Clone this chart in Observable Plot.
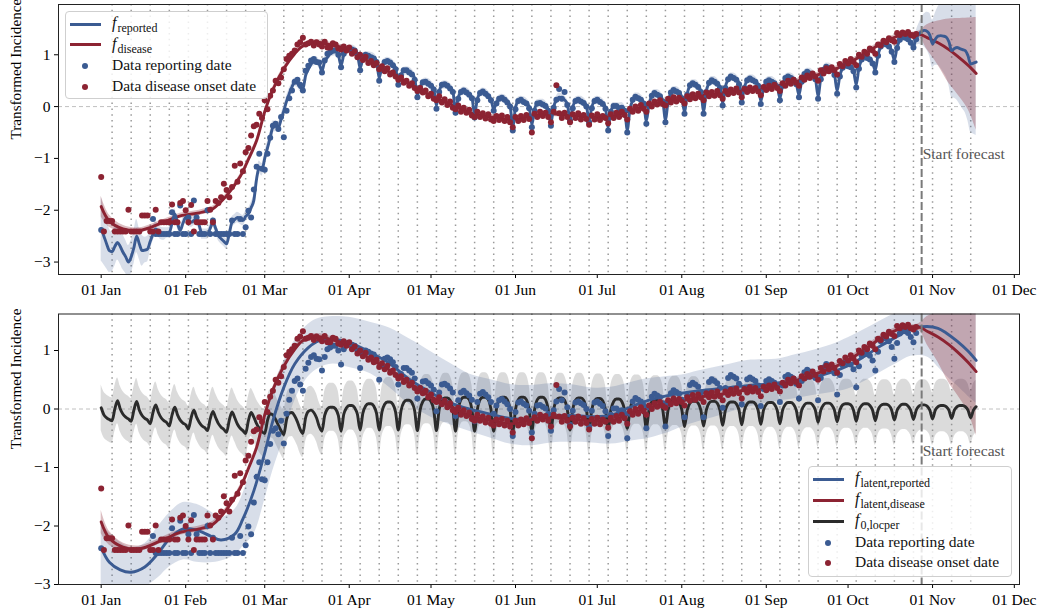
<!DOCTYPE html>
<html><head><meta charset="utf-8">
<script src="https://cdn.jsdelivr.net/npm/d3@7"></script>
<script src="https://cdn.jsdelivr.net/npm/@observablehq/plot@0.6"></script>
<style>
body{margin:0;background:#fff;}
#wrap{position:relative;width:1038px;height:612px;font-family:"Liberation Serif",serif;overflow:hidden;}
#wrap svg{position:absolute;left:0;display:block;}
.leg{position:absolute;border:1px solid #cfcfcf;border-radius:4px;background:rgba(255,255,255,0.82);box-sizing:border-box;}
.leg .row{position:absolute;left:0;right:0;height:0;}
.leg .ln{position:absolute;height:3px;top:-1.5px;}
.leg .dt{position:absolute;width:6px;height:6px;border-radius:50%;top:-3px;}
.leg .tx{position:absolute;top:0;transform:translateY(-55%);font-size:15.5px;white-space:nowrap;color:#111;line-height:1;}
.leg .f{font-style:italic;font-size:16px;}
.leg .sub{font-size:12px;position:relative;top:4px;margin-left:1px;}
</style></head>
<body><div id="wrap"></div>
<script>
// ---------- data (day index 0 = 01 Jan 2020) ----------
const forecastDay = 301;
const yTicksTop = [-3,-2,-1,0,1];
const yTicksBottom = [-3,-2,-1,0,1];

// top panel: f_reported (daily, days 0..321)
const repLine = [
-2.36,-2.5,-2.65,-2.78,-2.8,-2.7,-2.62,-2.7,-2.81,-2.9,
-3.0,-2.9,-2.72,-2.5,-2.65,-2.78,-2.77,-2.75,-2.6,-2.46,
-2.36,-2.4,-2.45,-2.46,-2.44,-2.43,-2.25,-2.07,-2.25,-2.39,
-2.25,-2.14,-2.2,-2.23,-2.2,-2.17,-2.3,-2.46,-2.46,-2.46,
-2.35,-2.23,-2.35,-2.49,-2.55,-2.6,-2.65,-2.45,-2.23,-2.18,
-2.14,-2.17,-2.2,-2.12,-2.07,-1.95,-1.81,-1.4,-1.17,-1.22,
-1.0,-0.8,-0.6,-0.4,-0.38,-0.4,-0.25,-0.08,0.1,0.25,
0.38,0.47,0.45,0.37,0.34,0.6,0.72,0.82,0.86,0.88,
0.82,0.69,0.88,0.95,1.02,1.05,1.06,1.0,0.79,1.0,
1.08,1.1,1.11,1.09,1.02,0.74,0.92,0.98,0.98,0.97,
0.95,0.88,0.55,0.78,0.85,0.87,0.86,0.82,0.75,0.45,
0.62,0.68,0.69,0.68,0.64,0.55,0.22,0.38,0.45,0.47,
0.46,0.42,0.35,0.02,0.3,0.4,0.42,0.41,0.37,0.3,
-0.08,0.18,0.27,0.3,0.29,0.25,0.18,-0.15,0.15,0.25,
0.28,0.27,0.22,0.14,-0.05,0.08,0.14,0.16,0.15,0.1,
0.02,-0.38,-0.02,0.1,0.12,0.11,0.08,0.0,-0.35,-0.05,
0.05,0.06,0.06,0.03,-0.05,-0.32,0.0,0.12,0.18,0.17,
0.13,0.05,-0.25,0.0,0.1,0.12,0.12,0.09,0.02,-0.27,
0.0,0.1,0.12,0.11,0.07,-0.02,-0.4,-0.08,0.0,0.0,
-0.01,0.0,-0.05,-0.45,-0.05,0.12,0.18,0.18,0.15,0.08,
-0.28,0.05,0.2,0.25,0.25,0.22,0.12,-0.25,0.1,0.26,
0.31,0.31,0.28,0.18,-0.1,0.25,0.4,0.44,0.44,0.4,
0.3,-0.08,0.3,0.45,0.5,0.5,0.46,0.38,0.06,0.38,
0.52,0.57,0.57,0.54,0.45,0.12,0.38,0.5,0.53,0.53,
0.5,0.42,0.1,0.36,0.47,0.5,0.5,0.47,0.4,0.16,
0.42,0.54,0.57,0.57,0.54,0.45,0.22,0.5,0.62,0.66,
0.66,0.63,0.55,0.2,0.55,0.7,0.76,0.76,0.73,0.63,
0.3,0.6,0.74,0.79,0.8,0.78,0.7,0.42,0.75,0.9,
0.95,0.96,0.93,0.85,0.7,1.0,1.15,1.21,1.22,1.18,
1.08,0.9,1.15,1.28,1.34,1.35,1.32,1.25,1.16,1.32,
1.40,1.45,1.47,1.45,1.38,1.21,1.3,1.36,1.37,1.36,
1.34,1.25,1.08,1.12,1.14,1.12,1.1,1.08,0.98,0.82,
0.84,0.86];

// uncertainty half-width of f_reported: [from day, half-width]
const repBandHalf = [[0,0.62],[1,0.55],[2,0.48],[3,0.42],[4,0.38],[6,0.34],[9,0.32],[14,0.3],[16,0.25],[18,0.18],[19,0.14],[21,0.12],[24,0.1],[56,0.12],[64,0.1],[70,0.08],[296,0.09],[298,0.11],[299,0.14],[300,0.2],[301,0.26],[302,0.32],[303,0.37],[304,0.42],[305,0.46],[306,0.5],[307,0.56],[308,0.63],[309,0.7],[310,0.77],[311,0.84],[312,0.9],[313,0.96],[314,1.02],[315,1.08],[316,1.14],[317,1.2],[318,1.26],[319,1.32],[320,1.37],[321,1.42]];

// data by reporting date (daily, days 0..299; null = not shown)
const repData = [
-2.38,null,null,null,null,null,null,null,null,null,
null,null,null,null,null,null,null,null,null,-2.17,
-2.46,-2.46,-2.46,-2.46,-2.46,-2.46,-2.04,-2.46,-2.46,-1.91,
-2.46,-2.46,-2.14,-2.46,-1.81,-2.14,-2.46,-2.46,-2.46,-2.0,
-2.46,-2.2,-2.46,-2.46,-2.46,-2.46,-2.46,-2.46,-2.2,-2.46,
-2.46,-2.17,-2.46,-2.33,-2.01,-2.14,-1.6,-1.16,-0.91,-1.2,
-1.22,-0.91,-0.6,-0.37,-0.33,-0.43,-0.2,-0.59,-0.08,0.16,
0.31,0.48,0.52,0.42,0.31,0.69,0.79,0.89,0.92,0.86,
0.85,0.66,0.89,1.02,1.05,1.08,1.08,1.0,0.76,1.02,
1.1,1.12,1.1,1.08,1.0,0.7,0.92,1.0,0.98,0.95,
0.93,0.86,0.5,0.75,0.86,0.88,0.85,0.8,0.72,0.42,
0.6,0.7,0.7,0.66,0.62,0.52,0.18,0.36,0.47,0.48,
0.44,0.4,0.33,-0.04,0.28,0.42,0.43,0.4,0.35,0.28,
-0.12,0.15,0.28,0.31,0.27,0.23,0.16,-0.21,0.12,0.26,
0.29,0.25,0.2,0.12,-0.08,0.06,0.15,0.17,0.13,0.08,
0.0,-0.46,-0.05,0.11,0.13,0.09,0.06,-0.03,-0.4,-0.08,
0.06,0.07,0.04,0.01,-0.08,-0.37,-0.02,0.13,0.34,0.15,
0.28,0.03,-0.27,-0.03,0.11,0.13,0.1,0.07,0.0,-0.3,
-0.03,0.11,0.13,0.09,0.05,-0.04,-0.46,-0.1,0.01,0.01,
-0.03,-0.02,-0.08,-0.5,-0.08,0.13,0.19,0.16,0.13,0.06,
-0.33,0.03,0.21,0.26,0.23,0.2,0.1,-0.3,0.08,0.27,
0.32,0.29,0.26,0.16,-0.14,0.23,0.41,0.45,0.42,0.38,
0.28,-0.14,0.28,0.46,0.51,0.48,0.44,0.36,0.02,0.36,
0.53,0.58,0.55,0.52,0.43,0.08,0.36,0.51,0.54,0.51,
0.48,0.4,0.05,0.34,0.48,0.51,0.48,0.45,0.38,0.12,
0.4,0.55,0.58,0.55,0.52,0.43,0.18,0.48,0.63,0.67,
0.64,0.61,0.53,0.15,0.53,0.71,0.77,0.74,0.71,0.61,
0.25,0.58,0.75,0.8,0.78,0.76,0.68,0.37,0.73,0.91,
0.96,0.94,0.91,0.83,0.66,0.98,1.16,1.22,1.2,1.16,
1.06,0.86,1.13,1.29,1.35,1.33,1.3,1.23,1.14,1.3];

// data by disease onset date (daily, days 0..299)
const onsData = [
-1.36,-2.41,-2.21,-2.21,-2.21,-2.41,-2.41,-2.41,-2.41,-2.41,
-1.99,-2.41,-2.41,-2.41,-2.41,-2.1,-2.1,-2.1,-2.41,-2.41,
-1.99,-2.41,-2.23,-2.23,-2.23,-2.23,-1.89,-2.23,-2.23,-1.86,
-1.82,-2.0,-2.23,-1.9,-2.41,-2.23,-2.23,-2.23,-2.23,-1.82,
-1.99,-2.23,-1.82,-1.86,-1.75,-1.49,-1.61,-1.75,-1.55,-1.14,
-1.45,-1.1,-1.25,-0.88,-0.8,-0.56,-0.38,-0.35,-0.14,-0.22,
0.12,-0.05,0.21,0.31,0.5,0.45,0.56,0.72,0.92,0.98,
1.02,1.08,1.2,1.24,1.33,1.2,1.22,1.25,1.18,1.24,
1.2,1.16,1.25,1.14,1.14,1.22,1.2,1.12,1.1,1.16,
1.08,1.14,1.02,1.07,0.95,1.0,0.9,0.96,0.84,0.88,
0.8,0.84,0.72,0.78,0.68,0.74,0.62,0.66,0.58,0.52,
0.56,0.46,0.5,0.4,0.45,0.36,0.3,0.36,0.27,0.31,
0.2,0.25,0.15,0.12,0.2,0.08,0.14,0.03,0.1,-0.02,
-0.05,0.02,-0.1,-0.02,-0.12,-0.06,-0.17,-0.2,-0.1,-0.2,
-0.13,-0.23,-0.15,-0.25,-0.28,-0.18,-0.26,-0.17,-0.28,-0.2,
-0.3,-0.4,-0.2,-0.28,-0.18,-0.26,-0.16,-0.24,-0.5,-0.14,
-0.2,-0.1,-0.18,-0.12,-0.2,-0.3,-0.1,0.41,-0.13,-0.22,
-0.12,-0.2,-0.3,-0.15,-0.22,-0.13,-0.25,-0.16,-0.24,-0.35,
-0.17,-0.25,-0.15,-0.26,-0.18,-0.22,-0.32,-0.15,-0.22,-0.12,
-0.2,-0.1,-0.16,-0.25,-0.04,-0.1,0.0,-0.08,0.03,-0.04,
-0.1,0.06,0.0,0.1,0.04,0.12,0.05,0.02,0.15,0.08,
0.18,0.1,0.17,0.12,0.06,0.2,0.14,0.24,0.16,0.25,
0.18,0.12,0.27,0.2,0.28,0.21,0.3,0.22,0.15,0.3,
0.24,0.33,0.26,0.35,0.27,0.18,0.34,0.28,0.37,0.3,
0.36,0.29,0.22,0.38,0.32,0.4,0.34,0.42,0.36,0.3,
0.45,0.4,0.5,0.44,0.52,0.46,0.4,0.56,0.52,0.6,
0.55,0.64,0.58,0.5,0.7,0.64,0.74,0.68,0.76,0.7,
0.62,0.82,0.78,0.88,0.83,0.92,0.86,0.8,1.0,0.96,
1.06,1.02,1.12,1.08,1.02,1.2,1.18,1.27,1.24,1.32,
1.28,1.25,1.42,1.38,1.43,1.4,1.44,1.38,1.36,1.4];

// f_disease / f_latent,disease (smooth), with band
const disDays = [0,3,8,14,22,29,36,41,46,51,54,57,60,63,67,71,74,79,85,90,95,99,106,113,121,128,135,143,151,158,165,172,179,187,194,201,207,213,220,227,234,242,249,256,264,271,278,286,293,300,303,307,311,314,318,321];
const disMid = [-1.93,-2.21,-2.36,-2.39,-2.25,-2.11,-2.05,-1.97,-1.72,-1.35,-1.02,-0.66,-0.1,0.33,0.73,1.02,1.17,1.24,1.18,1.11,0.97,0.85,0.66,0.44,0.21,0.05,-0.11,-0.2,-0.25,-0.18,-0.14,-0.17,-0.2,-0.2,-0.08,0.02,0.1,0.14,0.21,0.25,0.31,0.34,0.41,0.5,0.63,0.76,0.95,1.21,1.37,1.4,1.33,1.23,1.1,0.98,0.8,0.64];
const disLo = [-2.13,-2.33,-2.43,-2.44,-2.3,-2.16,-2.1,-2.02,-1.77,-1.4,-1.07,-0.71,-0.15,0.28,0.68,0.97,1.12,1.19,1.13,1.06,0.92,0.8,0.61,0.39,0.16,0.0,-0.16,-0.25,-0.3,-0.23,-0.19,-0.22,-0.25,-0.25,-0.13,-0.03,0.05,0.09,0.16,0.2,0.26,0.29,0.36,0.45,0.58,0.71,0.9,1.16,1.32,1.34,1.1,0.8,0.45,0.25,-0.05,-0.45];
const disHi = [-1.73,-2.09,-2.29,-2.34,-2.2,-2.06,-2.0,-1.92,-1.67,-1.3,-0.97,-0.61,-0.05,0.38,0.78,1.07,1.22,1.29,1.23,1.16,1.02,0.9,0.71,0.49,0.26,0.1,-0.06,-0.15,-0.2,-0.13,-0.09,-0.12,-0.15,-0.15,-0.03,0.07,0.15,0.19,0.26,0.3,0.36,0.39,0.46,0.55,0.68,0.81,1.0,1.26,1.42,1.46,1.58,1.65,1.69,1.7,1.71,1.72];

// f_latent,reported (smooth), with band
const latDays = [0,3,7,11,16,21,25,30,35,40,44,49,52,56,60,63,67,71,76,80,85,91,99,106,113,121,128,135,143,150,157,165,172,180,187,194,201,207,213,219,225,231,237,243,249,255,261,268,274,280,286,292,297,303,307,310,314,318,321];
const latMid = [-2.37,-2.62,-2.75,-2.79,-2.7,-2.46,-2.22,-2.05,-2.07,-2.17,-2.24,-2.14,-1.88,-1.4,-0.75,-0.2,0.37,0.77,1.05,1.17,1.19,1.14,0.96,0.77,0.51,0.28,0.11,0.0,-0.09,-0.16,-0.17,-0.12,-0.11,-0.13,-0.11,0.03,0.15,0.22,0.27,0.31,0.34,0.37,0.4,0.42,0.45,0.49,0.54,0.63,0.74,0.9,1.08,1.24,1.37,1.41,1.38,1.3,1.16,0.99,0.83];
const latLo = [-3.3,-3.2,-3.15,-3.15,-3.05,-2.88,-2.7,-2.58,-2.62,-2.63,-2.6,-2.5,-2.35,-2.14,-1.55,-1.05,-0.5,0.14,0.55,0.7,0.77,0.71,0.6,0.36,0.08,-0.14,-0.27,-0.38,-0.5,-0.6,-0.63,-0.58,-0.57,-0.58,-0.6,-0.55,-0.5,-0.42,-0.31,-0.22,-0.14,-0.05,0.03,0.09,0.14,0.18,0.23,0.28,0.34,0.47,0.63,0.78,0.9,0.89,0.72,0.57,0.4,0.22,0.1];
const latHi = [-1.95,-2.12,-2.28,-2.37,-2.3,-2.0,-1.78,-1.6,-1.63,-1.75,-1.85,-1.72,-1.45,-0.83,-0.1,0.35,0.82,1.17,1.45,1.55,1.58,1.57,1.48,1.38,1.2,0.98,0.78,0.6,0.5,0.42,0.4,0.43,0.42,0.36,0.37,0.45,0.52,0.55,0.58,0.65,0.71,0.77,0.83,0.84,0.86,0.93,1.0,1.1,1.22,1.36,1.51,1.65,1.75,1.88,1.95,2.0,2.05,2.12,2.2];

// f_0,locper (daily, days 0..321)
const f0 = [
0.02,-0.1,-0.15,-0.18,
-0.2,0.0,0.14,0.0,-0.09,-0.14,-0.17,
-0.21,-0.02,0.13,-0.02,-0.11,-0.16,-0.19,
-0.25,-0.06,0.07,-0.06,-0.15,-0.2,-0.23,
-0.29,-0.1,0.03,-0.1,-0.19,-0.24,-0.27,
-0.34,-0.15,-0.02,-0.14,-0.23,-0.29,-0.32,
-0.37,-0.17,-0.04,-0.15,-0.25,-0.31,-0.35,
-0.4,-0.19,-0.05,-0.15,-0.26,-0.33,-0.37,
-0.42,-0.2,-0.06,-0.14,-0.25,-0.33,-0.39,
-0.42,-0.2,-0.08,-0.1,-0.18,-0.28,-0.37,
-0.44,-0.18,-0.07,-0.06,-0.12,-0.22,-0.35,
-0.42,-0.15,-0.04,-0.02,-0.06,-0.15,-0.3,
-0.38,-0.11,0.0,0.03,0.03,0.0,-0.11,
-0.38,-0.09,0.02,0.06,0.06,0.02,-0.09,
-0.36,-0.07,0.05,0.09,0.09,0.05,-0.07,
-0.36,-0.05,0.08,0.12,0.12,0.08,-0.05,
-0.36,-0.03,0.11,0.15,0.15,0.11,-0.03,
-0.37,-0.02,0.13,0.17,0.17,0.13,-0.02,
-0.37,-0.01,0.15,0.19,0.19,0.15,-0.01,
-0.38,-0.01,0.16,0.2,0.2,0.16,-0.01,
-0.38,-0.01,0.16,0.2,0.2,0.16,-0.01,
-0.38,-0.01,0.16,0.2,0.2,0.16,-0.01,
-0.38,-0.01,0.16,0.2,0.2,0.16,-0.01,
-0.37,-0.01,0.16,0.2,0.2,0.16,-0.01,
-0.37,-0.01,0.15,0.19,0.19,0.15,-0.01,
-0.36,-0.01,0.15,0.19,0.19,0.15,-0.01,
-0.35,-0.01,0.14,0.18,0.18,0.14,-0.01,
-0.34,-0.01,0.13,0.17,0.17,0.13,-0.01,
-0.33,-0.01,0.13,0.16,0.16,0.13,-0.01,
-0.32,-0.01,0.12,0.15,0.15,0.12,-0.01,
-0.31,-0.01,0.11,0.14,0.14,0.11,-0.01,
-0.3,-0.02,0.1,0.13,0.13,0.1,-0.02,
-0.29,-0.02,0.1,0.13,0.13,0.1,-0.02,
-0.28,-0.02,0.09,0.12,0.12,0.09,-0.02,
-0.27,-0.02,0.09,0.12,0.12,0.09,-0.02,
-0.26,-0.02,0.08,0.11,0.11,0.08,-0.02,
-0.25,-0.02,0.08,0.11,0.11,0.08,-0.02,
-0.24,-0.02,0.07,0.1,0.1,0.07,-0.02,
-0.23,-0.02,0.07,0.1,0.1,0.07,-0.02,
-0.22,-0.02,0.07,0.09,0.09,0.07,-0.02,
-0.21,-0.02,0.06,0.09,0.09,0.06,-0.02,
-0.2,-0.02,0.06,0.08,0.08,0.06,-0.02,
-0.19,-0.02,0.05,0.08,0.08,0.05,-0.02,
-0.18,-0.02,0.05,0.07,0.07,0.05,-0.02,
-0.17,-0.02,0.04,0.06,0.06,0.04,-0.02,
-0.16,-0.02,0.04,0.06,0.06,0.04,-0.02,
-0.15,-0.02,0.04];
const f0BandHalf = [[0,0.39],[40,0.41],[90,0.42],[290,0.43],[305,0.45]];

// ---------- build ----------
const BLUE="#3b5b92", RED="#8c2332", DARK="#2b2b2b";
const LW=2.9, R=3.0;
const DAY=864e5, T0=Date.UTC(2020,0,1);
const toDate=d=>new Date(T0+d*DAY);
const xDomain=[toDate(-15.66), toDate(336.9)];
const monthTicks=d3.utcMonth.range(new Date(Date.UTC(2020,0,1)), new Date(Date.UTC(2020,11,2)));
const sundays=d3.utcSunday.range(toDate(0), toDate(320));
const forecastDate=toDate(forecastDay);
const yFmt=d=>d<0?"\u2212"+Math.abs(d):String(d);
const stepLookup=(table,d)=>{let v=table[0][1];for(const [k,w] of table){if(d>=k)v=w;}return v;};

const repRows=repLine.map((v,i)=>{const h=stepLookup(repBandHalf,i);return {date:toDate(i),v,lo:v-h,hi:v+h};});
const repDots=repData.map((v,i)=>({date:toDate(i),v})).filter(d=>d.v!=null);
const onsDots=onsData.map((v,i)=>({date:toDate(i),v})).filter(d=>d.v!=null);
const disRows=disDays.map((d,i)=>({date:toDate(d),v:disMid[i],lo:disLo[i],hi:disHi[i]}));
const latRows=latDays.map((d,i)=>({date:toDate(d),v:latMid[i],lo:latLo[i],hi:latHi[i]}));
const f0Rows=f0.map((v,i)=>{const h=stepLookup(f0BandHalf,i);return {date:toDate(i),v,lo:v-h,hi:v+h};});

const FONT='"Liberation Serif", serif';
function common(yTicks){
  return {
    grid:[
      Plot.ruleX(sundays,{stroke:"#9a9a9a",strokeWidth:1.5,strokeDasharray:"1.5,4.3"}),
      Plot.ruleY([0],{stroke:"#c0c0c0",strokeWidth:1,strokeDasharray:"4,3"})
    ],
    over:[
      Plot.ruleX([forecastDate],{stroke:"#7a7a7a",strokeWidth:2,strokeDasharray:"8,3"}),
      Plot.axisX(monthTicks,{tickFormat:d3.utcFormat("%d %b"),tickSize:4,tickPadding:5,label:null,fontSize:15.5}),
      Plot.axisY(yTicks,{tickSize:4,tickPadding:4,label:null,tickFormat:yFmt,fontSize:15.5}),
      Plot.text(["Transformed Incidence"],{frameAnchor:"left",dx:-42,rotate:-90,text:d=>d,fontSize:15.2}),
      Plot.frame({stroke:"#222",strokeWidth:1})
    ]
  };
}

const wrapEl=document.getElementById("wrap");

const cTop=common(yTicksTop);
const topPlot=Plot.plot({
  width:1038,height:300,marginLeft:58,marginRight:19,marginTop:4,marginBottom:26,
  x:{type:"utc",domain:xDomain},
  y:{domain:[-3.24,1.97]},
  style:{fontFamily:FONT,fontSize:"15.5px",color:"#000",background:"transparent",overflow:"visible"},
  marks:[
    ...cTop.grid,
    Plot.areaY(repRows,{x:"date",y1:"lo",y2:"hi",fill:BLUE,fillOpacity:0.2,curve:"monotone-x",clip:true}),
    Plot.areaY(disRows,{x:"date",y1:"lo",y2:"hi",fill:RED,fillOpacity:0.3,curve:"catmull-rom",clip:true}),
    Plot.line(disRows,{x:"date",y:"v",stroke:RED,strokeWidth:LW,curve:"catmull-rom",clip:true}),
    Plot.line(repRows,{x:"date",y:"v",stroke:BLUE,strokeWidth:LW,curve:"monotone-x",clip:true}),
    Plot.dot(repDots,{x:"date",y:"v",r:R,fill:BLUE}),
    Plot.dot(onsDots,{x:"date",y:"v",r:R,fill:RED}),
    Plot.text([{date:forecastDate,y:-0.907,label:"Start forecast"}],{x:"date",y:"y",text:"label",textAnchor:"start",dx:1,fill:"#555",fontSize:15.5}),
    ...cTop.over
  ]
});
topPlot.style.top="0px";
wrapEl.appendChild(topPlot);

const cBot=common(yTicksBottom);
const botPlot=Plot.plot({
  width:1038,height:312,marginLeft:58,marginRight:19,marginTop:13.5,marginBottom:28,
  x:{type:"utc",domain:xDomain},
  y:{domain:[-3,1.624]},
  style:{fontFamily:FONT,fontSize:"15.5px",color:"#000",background:"transparent",overflow:"visible"},
  marks:[
    ...cBot.grid,
    Plot.areaY(f0Rows,{x:"date",y1:"lo",y2:"hi",fill:"#888",fillOpacity:0.3,curve:"monotone-x",clip:true}),
    Plot.areaY(latRows,{x:"date",y1:"lo",y2:"hi",fill:BLUE,fillOpacity:0.2,curve:"catmull-rom",clip:true}),
    Plot.areaY(disRows,{x:"date",y1:"lo",y2:"hi",fill:RED,fillOpacity:0.3,curve:"catmull-rom",clip:true}),
    Plot.line(f0Rows,{x:"date",y:"v",stroke:DARK,strokeWidth:LW,curve:"monotone-x",clip:true}),
    Plot.line(latRows,{x:"date",y:"v",stroke:BLUE,strokeWidth:LW,curve:"catmull-rom",clip:true}),
    Plot.line(disRows,{x:"date",y:"v",stroke:RED,strokeWidth:LW,curve:"catmull-rom",clip:true}),
    Plot.dot(repDots,{x:"date",y:"v",r:R,fill:BLUE,clip:true}),
    Plot.dot(onsDots,{x:"date",y:"v",r:R,fill:RED,clip:true}),
    Plot.text([{date:forecastDate,y:-0.725,label:"Start forecast"}],{x:"date",y:"y",text:"label",textAnchor:"start",dx:1,fill:"#555",fontSize:15.5}),
    ...cBot.over
  ]
});
botPlot.style.top="300px";
wrapEl.appendChild(botPlot);

// ---------- legends ----------
function legend(left,topY,w,h,rows){
  const box=document.createElement("div");box.className="leg";
  Object.assign(box.style,{left:left+"px",top:topY+"px",width:w+"px",height:h+"px"});
  for(const r of rows){
    const row=document.createElement("div");row.className="row";row.style.top=r.y+"px";
    if(r.kind==="line"){
      const l=document.createElement("div");l.className="ln";
      Object.assign(l.style,{left:"4px",width:"31px",background:r.color});row.appendChild(l);
    }else{
      const d=document.createElement("div");d.className="dt";
      Object.assign(d.style,{left:"16px",background:r.color});row.appendChild(d);
    }
    const t=document.createElement("div");t.className="tx";t.style.left="46px";t.innerHTML=r.html;row.appendChild(t);
    box.appendChild(row);
  }
  wrapEl.appendChild(box);
}
const fsub=s=>'<span class="f">f</span><span class="sub">'+s+'</span>';
legend(65,11,203,88,[
  {kind:"line",color:BLUE,y:12,html:fsub("reported")},
  {kind:"line",color:RED,y:32.5,html:fsub("disease")},
  {kind:"dot",color:BLUE,y:53.5,html:"Data reporting date"},
  {kind:"dot",color:RED,y:75,html:"Data disease onset date"}
]);
legend(808,466,204,111,[
  {kind:"line",color:BLUE,y:12,html:fsub("latent,reported")},
  {kind:"line",color:RED,y:33,html:fsub("latent,disease")},
  {kind:"line",color:DARK,y:54,html:fsub("0,locper")},
  {kind:"dot",color:BLUE,y:76,html:"Data reporting date"},
  {kind:"dot",color:RED,y:96,html:"Data disease onset date"}
]);
</script></body></html>
